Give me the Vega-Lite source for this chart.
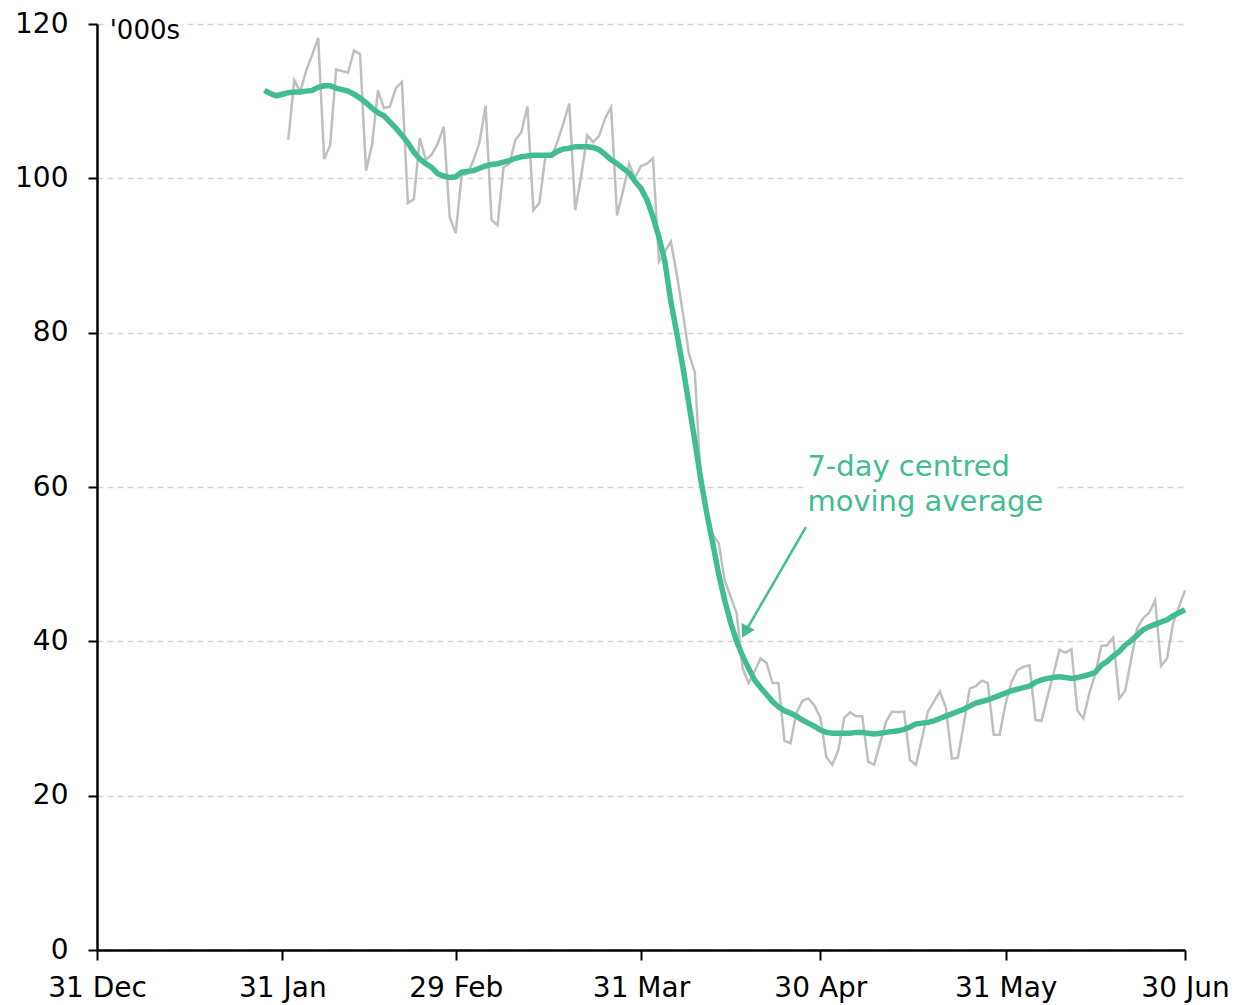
{
  "$schema": "https://vega.github.io/schema/vega-lite/v6.json",
  "width": 1088,
  "height": 926,
  "autosize": {"type": "none"},
  "padding": {"left": 97, "top": 24, "right": 50, "bottom": 55},
  "background": "white",
  "config": {"view": {"stroke": null}, "font": "DejaVu Sans"},
  "layer": [
    {
      "data": {"values": [
        {"date": "2020-01-28", "ma": 111.4},
        {"date": "2020-01-29", "ma": 111.0},
        {"date": "2020-01-30", "ma": 110.7},
        {"date": "2020-01-31", "ma": 110.9},
        {"date": "2020-02-01", "daily": 105.0, "ma": 111.1},
        {"date": "2020-02-02", "daily": 112.7, "ma": 111.2},
        {"date": "2020-02-03", "daily": 111.2, "ma": 111.2},
        {"date": "2020-02-04", "daily": 114.0, "ma": 111.3},
        {"date": "2020-02-05", "daily": 116.0, "ma": 111.4},
        {"date": "2020-02-06", "daily": 118.2, "ma": 111.8},
        {"date": "2020-02-07", "daily": 102.5, "ma": 112.0},
        {"date": "2020-02-08", "daily": 104.3, "ma": 112.0},
        {"date": "2020-02-09", "daily": 114.1, "ma": 111.7},
        {"date": "2020-02-10", "daily": 113.9, "ma": 111.5},
        {"date": "2020-02-11", "daily": 113.7, "ma": 111.3},
        {"date": "2020-02-12", "daily": 116.6, "ma": 110.9},
        {"date": "2020-02-13", "daily": 116.1, "ma": 110.4},
        {"date": "2020-02-14", "daily": 101.0, "ma": 109.8},
        {"date": "2020-02-15", "daily": 104.3, "ma": 109.1},
        {"date": "2020-02-16", "daily": 111.4, "ma": 108.5},
        {"date": "2020-02-17", "daily": 109.1, "ma": 108.1},
        {"date": "2020-02-18", "daily": 109.3, "ma": 107.3},
        {"date": "2020-02-19", "daily": 111.7, "ma": 106.5},
        {"date": "2020-02-20", "daily": 112.5, "ma": 105.6},
        {"date": "2020-02-21", "daily": 96.8, "ma": 104.6},
        {"date": "2020-02-22", "daily": 97.3, "ma": 103.4},
        {"date": "2020-02-23", "daily": 105.2, "ma": 102.5},
        {"date": "2020-02-24", "daily": 102.4, "ma": 101.9},
        {"date": "2020-02-25", "daily": 103.1, "ma": 101.4},
        {"date": "2020-02-26", "daily": 104.5, "ma": 100.6},
        {"date": "2020-02-27", "daily": 106.7, "ma": 100.3},
        {"date": "2020-02-28", "daily": 95.0, "ma": 100.1},
        {"date": "2020-02-29", "daily": 92.9, "ma": 100.2},
        {"date": "2020-03-01", "daily": 100.4, "ma": 100.8},
        {"date": "2020-03-02", "daily": 100.6, "ma": 100.9},
        {"date": "2020-03-03", "daily": 102.4, "ma": 101.0},
        {"date": "2020-03-04", "daily": 104.7, "ma": 101.3},
        {"date": "2020-03-05", "daily": 109.4, "ma": 101.6},
        {"date": "2020-03-06", "daily": 94.6, "ma": 101.8},
        {"date": "2020-03-07", "daily": 93.9, "ma": 101.9},
        {"date": "2020-03-08", "daily": 101.4, "ma": 102.1},
        {"date": "2020-03-09", "daily": 101.9, "ma": 102.3},
        {"date": "2020-03-10", "daily": 105.0, "ma": 102.6},
        {"date": "2020-03-11", "daily": 106.0, "ma": 102.8},
        {"date": "2020-03-12", "daily": 109.3, "ma": 102.9},
        {"date": "2020-03-13", "daily": 95.9, "ma": 103.0},
        {"date": "2020-03-14", "daily": 96.8, "ma": 103.0},
        {"date": "2020-03-15", "daily": 102.8, "ma": 103.0},
        {"date": "2020-03-16", "daily": 102.8, "ma": 103.0},
        {"date": "2020-03-17", "daily": 104.7, "ma": 103.5},
        {"date": "2020-03-18", "daily": 107.1, "ma": 103.8},
        {"date": "2020-03-19", "daily": 109.7, "ma": 103.9},
        {"date": "2020-03-20", "daily": 95.9, "ma": 104.1},
        {"date": "2020-03-21", "daily": 100.3, "ma": 104.1},
        {"date": "2020-03-22", "daily": 105.6, "ma": 104.1},
        {"date": "2020-03-23", "daily": 104.7, "ma": 104.0},
        {"date": "2020-03-24", "daily": 105.5, "ma": 103.7},
        {"date": "2020-03-25", "daily": 107.8, "ma": 103.1},
        {"date": "2020-03-26", "daily": 109.2, "ma": 102.4},
        {"date": "2020-03-27", "daily": 95.2, "ma": 101.9},
        {"date": "2020-03-28", "daily": 98.4, "ma": 101.3},
        {"date": "2020-03-29", "daily": 101.9, "ma": 100.7},
        {"date": "2020-03-30", "daily": 100.1, "ma": 99.6},
        {"date": "2020-03-31", "daily": 101.6, "ma": 98.7},
        {"date": "2020-04-01", "daily": 101.9, "ma": 97.2},
        {"date": "2020-04-02", "daily": 102.6, "ma": 95.0},
        {"date": "2020-04-03", "daily": 89.2, "ma": 92.4},
        {"date": "2020-04-04", "daily": 90.5, "ma": 89.2},
        {"date": "2020-04-05", "daily": 91.8, "ma": 84.0},
        {"date": "2020-04-06", "daily": 87.5, "ma": 79.9},
        {"date": "2020-04-07", "daily": 82.6, "ma": 75.6},
        {"date": "2020-04-08", "daily": 77.3, "ma": 70.8},
        {"date": "2020-04-09", "daily": 74.9, "ma": 66.0},
        {"date": "2020-04-10", "daily": 60.9, "ma": 61.0},
        {"date": "2020-04-11", "daily": 56.6, "ma": 56.6},
        {"date": "2020-04-12", "daily": 53.8, "ma": 52.7},
        {"date": "2020-04-13", "daily": 52.7, "ma": 48.7},
        {"date": "2020-04-14", "daily": 47.9, "ma": 45.3},
        {"date": "2020-04-15", "daily": 45.8, "ma": 42.4},
        {"date": "2020-04-16", "daily": 43.6, "ma": 40.0},
        {"date": "2020-04-17", "daily": 36.5, "ma": 38.1},
        {"date": "2020-04-18", "daily": 34.6, "ma": 36.5},
        {"date": "2020-04-19", "daily": 36.1, "ma": 35.0},
        {"date": "2020-04-20", "daily": 37.8, "ma": 34.0},
        {"date": "2020-04-21", "daily": 37.2, "ma": 33.1},
        {"date": "2020-04-22", "daily": 34.6, "ma": 32.2},
        {"date": "2020-04-23", "daily": 34.6, "ma": 31.5},
        {"date": "2020-04-24", "daily": 27.1, "ma": 31.0},
        {"date": "2020-04-25", "daily": 26.8, "ma": 30.7},
        {"date": "2020-04-26", "daily": 30.7, "ma": 30.3},
        {"date": "2020-04-27", "daily": 32.3, "ma": 29.8},
        {"date": "2020-04-28", "daily": 32.6, "ma": 29.4},
        {"date": "2020-04-29", "daily": 31.7, "ma": 29.0},
        {"date": "2020-04-30", "daily": 30.1, "ma": 28.5},
        {"date": "2020-05-01", "daily": 25.0, "ma": 28.2},
        {"date": "2020-05-02", "daily": 24.0, "ma": 28.1},
        {"date": "2020-05-03", "daily": 25.9, "ma": 28.1},
        {"date": "2020-05-04", "daily": 30.1, "ma": 28.1},
        {"date": "2020-05-05", "daily": 30.8, "ma": 28.1},
        {"date": "2020-05-06", "daily": 30.3, "ma": 28.2},
        {"date": "2020-05-07", "daily": 30.3, "ma": 28.2},
        {"date": "2020-05-08", "daily": 24.4, "ma": 28.1},
        {"date": "2020-05-09", "daily": 24.0, "ma": 28.0},
        {"date": "2020-05-10", "daily": 26.8, "ma": 28.1},
        {"date": "2020-05-11", "daily": 29.6, "ma": 28.2},
        {"date": "2020-05-12", "daily": 30.9, "ma": 28.3},
        {"date": "2020-05-13", "daily": 30.8, "ma": 28.4},
        {"date": "2020-05-14", "daily": 30.9, "ma": 28.6},
        {"date": "2020-05-15", "daily": 24.6, "ma": 28.9},
        {"date": "2020-05-16", "daily": 24.0, "ma": 29.3},
        {"date": "2020-05-17", "daily": 27.4, "ma": 29.4},
        {"date": "2020-05-18", "daily": 30.9, "ma": 29.5},
        {"date": "2020-05-19", "daily": 32.2, "ma": 29.7},
        {"date": "2020-05-20", "daily": 33.5, "ma": 30.0},
        {"date": "2020-05-21", "daily": 31.4, "ma": 30.3},
        {"date": "2020-05-22", "daily": 24.8, "ma": 30.6},
        {"date": "2020-05-23", "daily": 24.9, "ma": 30.9},
        {"date": "2020-05-24", "daily": 29.3, "ma": 31.2},
        {"date": "2020-05-25", "daily": 33.9, "ma": 31.6},
        {"date": "2020-05-26", "daily": 34.2, "ma": 32.0},
        {"date": "2020-05-27", "daily": 34.9, "ma": 32.2},
        {"date": "2020-05-28", "daily": 34.6, "ma": 32.4},
        {"date": "2020-05-29", "daily": 27.9, "ma": 32.7},
        {"date": "2020-05-30", "daily": 27.9, "ma": 33.0},
        {"date": "2020-05-31", "daily": 32.0, "ma": 33.3},
        {"date": "2020-06-01", "daily": 34.8, "ma": 33.6},
        {"date": "2020-06-02", "daily": 36.3, "ma": 33.8},
        {"date": "2020-06-03", "daily": 36.7, "ma": 34.0},
        {"date": "2020-06-04", "daily": 36.9, "ma": 34.2},
        {"date": "2020-06-05", "daily": 29.8, "ma": 34.7},
        {"date": "2020-06-06", "daily": 29.7, "ma": 35.0},
        {"date": "2020-06-07", "daily": 32.8, "ma": 35.2},
        {"date": "2020-06-08", "daily": 35.8, "ma": 35.3},
        {"date": "2020-06-09", "daily": 38.9, "ma": 35.4},
        {"date": "2020-06-10", "daily": 38.5, "ma": 35.3},
        {"date": "2020-06-11", "daily": 39.0, "ma": 35.2},
        {"date": "2020-06-12", "daily": 31.0, "ma": 35.3},
        {"date": "2020-06-13", "daily": 30.0, "ma": 35.5},
        {"date": "2020-06-14", "daily": 33.3, "ma": 35.7},
        {"date": "2020-06-15", "daily": 35.8, "ma": 36.0},
        {"date": "2020-06-16", "daily": 39.4, "ma": 36.9},
        {"date": "2020-06-17", "daily": 39.5, "ma": 37.4},
        {"date": "2020-06-18", "daily": 40.5, "ma": 38.1},
        {"date": "2020-06-19", "daily": 32.6, "ma": 38.7},
        {"date": "2020-06-20", "daily": 33.6, "ma": 39.5},
        {"date": "2020-06-21", "daily": 37.7, "ma": 40.1},
        {"date": "2020-06-22", "daily": 41.7, "ma": 40.8},
        {"date": "2020-06-23", "daily": 43.0, "ma": 41.5},
        {"date": "2020-06-24", "daily": 43.7, "ma": 41.9},
        {"date": "2020-06-25", "daily": 45.3, "ma": 42.2},
        {"date": "2020-06-26", "daily": 36.8, "ma": 42.5},
        {"date": "2020-06-27", "daily": 37.8, "ma": 42.8},
        {"date": "2020-06-28", "daily": 42.3, "ma": 43.3},
        {"date": "2020-06-29", "daily": 44.5, "ma": 43.7},
        {"date": "2020-06-30", "daily": 46.6, "ma": 44.1}
      ]},
      "layer": [
        {
          "mark": {"type": "line", "color": "#BFBFBF", "strokeWidth": 2.5},
          "encoding": {
            "x": {
              "field": "date", "type": "temporal",
              "scale": {"type": "utc", "domain": [
                {"year": 2019, "month": "dec", "date": 31, "utc": true},
                {"year": 2020, "month": "jun", "date": 30, "utc": true}
              ]},
              "axis": {
                "title": null,
                "values": [
                  {"year": 2019, "month": "dec", "date": 31, "utc": true},
                  {"year": 2020, "month": "jan", "date": 31, "utc": true},
                  {"year": 2020, "month": "feb", "date": 29, "utc": true},
                  {"year": 2020, "month": "mar", "date": 31, "utc": true},
                  {"year": 2020, "month": "apr", "date": 30, "utc": true},
                  {"year": 2020, "month": "may", "date": 31, "utc": true},
                  {"year": 2020, "month": "jun", "date": 30, "utc": true}
                ],
                "format": "%-d %b",
                "grid": false,
                "labelFontSize": 28,
                "labelColor": "#000000",
                "labelPadding": 14,
                "labelFlush": false,
                "labelOverlap": false,
                "tickSize": 10,
                "tickColor": "#000000",
                "tickWidth": 2,
                "domainColor": "#000000",
                "domainWidth": 2.5
              }
            },
            "y": {
              "field": "daily", "type": "quantitative",
              "scale": {"domain": [0, 120], "nice": false},
              "axis": {
                "title": null,
                "values": [0, 20, 40, 60, 80, 100, 120],
                "labelFontSize": 28,
                "labelColor": "#000000",
                "labelPadding": 20,
                "tickSize": 9,
                "tickColor": "#000000",
                "tickWidth": 2,
                "domainColor": "#000000",
                "domainWidth": 2.5,
                "grid": true,
                "gridColor": "#D3D3D3",
                "gridDash": [6, 4],
                "gridWidth": 1.5
              }
            }
          }
        },
        {
          "mark": {"type": "line", "color": "#41BD8F", "strokeWidth": 5.5},
          "encoding": {
            "x": {"field": "date", "type": "temporal"},
            "y": {"field": "ma", "type": "quantitative"}
          }
        }
      ]
    },
    {
      "data": {"values": [{}]},
      "mark": {"type": "rect", "fill": "white", "stroke": null},
      "encoding": {
        "x": {"datum": {"year": 2020, "month": "apr", "date": 27, "hours": 12, "utc": true}, "type": "temporal"},
        "x2": {"datum": {"year": 2020, "month": "jun", "date": 8, "hours": 12, "utc": true}},
        "y": {"datum": 58, "type": "quantitative"},
        "y2": {"datum": 63}
      }
    },
    {
      "data": {"values": [{}]},
      "mark": {"type": "rect", "fill": "white", "stroke": null},
      "encoding": {
        "x": {"datum": {"year": 2020, "month": "jan", "date": 1, "hours": 20, "utc": true}, "type": "temporal"},
        "x2": {"datum": {"year": 2020, "month": "jan", "date": 14, "hours": 17, "utc": true}},
        "y": {"datum": 118.5, "type": "quantitative"},
        "y2": {"datum": 121}
      }
    },
    {
      "data": {"values": [{}]},
      "mark": {"type": "rule", "color": "#41BD8F", "strokeWidth": 2.5},
      "encoding": {
        "x": {"datum": {"year": 2020, "month": "apr", "date": 27, "hours": 14, "utc": true}, "type": "temporal"},
        "x2": {"datum": {"year": 2020, "month": "apr", "date": 17, "hours": 10, "utc": true}},
        "y": {"datum": 54.8, "type": "quantitative"},
        "y2": {"datum": 41.2}
      }
    },
    {
      "data": {"values": [{}]},
      "mark": {"type": "point", "shape": "triangle-up", "filled": true, "fill": "#41BD8F", "stroke": null, "opacity": 1, "size": 220, "angle": 207.6},
      "encoding": {
        "x": {"datum": {"year": 2020, "month": "apr", "date": 17, "hours": 10, "utc": true}, "type": "temporal"},
        "y": {"datum": 41.2, "type": "quantitative"}
      }
    },
    {
      "data": {"values": [{}]},
      "mark": {"type": "text", "fill": "#41BD8F", "fontSize": 29, "align": "left", "baseline": "alphabetic", "lineBreak": "\n", "lineHeight": 35},
      "encoding": {
        "x": {"datum": {"year": 2020, "month": "apr", "date": 27, "hours": 20, "utc": true}, "type": "temporal"},
        "y": {"datum": 61.4, "type": "quantitative"},
        "text": {"value": "7-day centred\nmoving average"}
      }
    },
    {
      "data": {"values": [{}]},
      "mark": {"type": "text", "fill": "#000000", "fontSize": 26, "align": "left", "baseline": "alphabetic"},
      "encoding": {
        "x": {"datum": {"year": 2020, "month": "jan", "date": 2, "hours": 3, "utc": true}, "type": "temporal"},
        "y": {"datum": 118.0, "type": "quantitative"},
        "text": {"value": "'000s"}
      }
    }
  ]
}
